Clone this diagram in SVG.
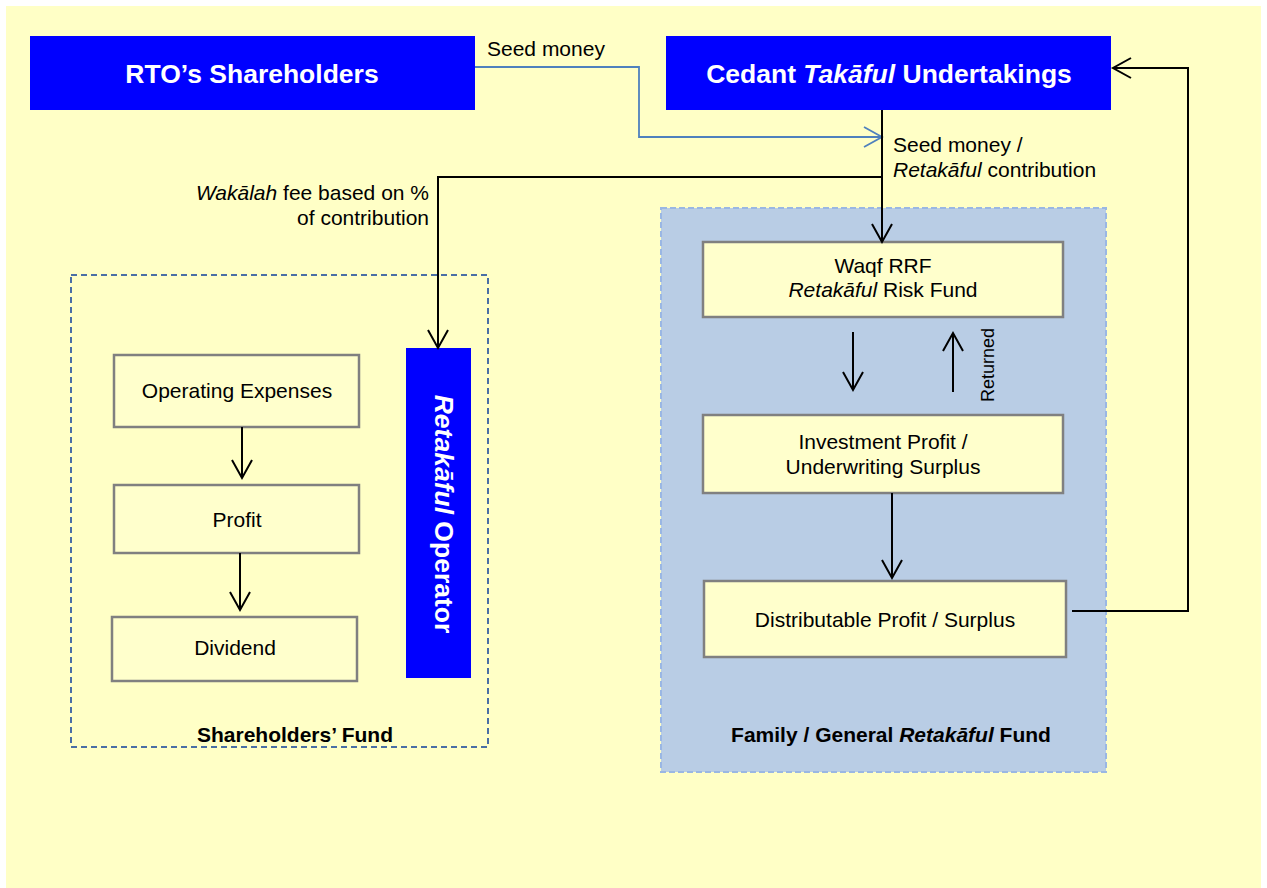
<svg xmlns="http://www.w3.org/2000/svg" width="1267" height="888" viewBox="0 0 1267 888">
<style>
text{font-family:"Liberation Sans",Arial,sans-serif;fill:#000}
.t{font-size:21px}
.b{font-weight:bold}
.h{font-size:26.5px;font-weight:bold;fill:#fff}
.i{font-style:italic}
.node{fill:#ffffcc;stroke:#808080;stroke-width:2.5}
.blue{fill:#0000ff}
.c{fill:none;stroke:#000;stroke-width:2}
</style>
<defs>
<marker id="ah" markerUnits="userSpaceOnUse" markerWidth="22" markerHeight="24" refX="19" refY="11" orient="auto" viewBox="0 0 22 24">
<path d="M1,1 L19,11 L1,21" fill="none" stroke="#000" stroke-width="2"/>
</marker>
<marker id="ahb" markerUnits="userSpaceOnUse" markerWidth="22" markerHeight="24" refX="19" refY="11" orient="auto" viewBox="0 0 22 24">
<path d="M1,1 L19,11 L1,21" fill="none" stroke="#4f81bd" stroke-width="1.8"/>
</marker>
</defs>
<rect x="6" y="6" width="1255" height="882" fill="#ffffc6"/>
<g id="family-fund">
<rect x="661" y="208" width="445" height="564" fill="#b9cde5" stroke="#9ab7e3" stroke-width="2" stroke-dasharray="6,3"/>
<text class="t b" x="891" y="742" text-anchor="middle">Family / General <tspan class="i">Retakāful</tspan> Fund</text>
</g>
<g id="shareholders-fund">
<rect x="71" y="275" width="417" height="472" fill="none" stroke="#4a6fa5" stroke-width="2" stroke-dasharray="6,4"/>
<text class="t b" x="295" y="742" text-anchor="middle">Shareholders’ Fund</text>
</g>
<g id="rto-shareholders">
<rect class="blue" x="30" y="36" width="445" height="74"/>
<text class="h" x="252" y="83" text-anchor="middle">RTO’s Shareholders</text>
</g>
<g id="cedant">
<rect class="blue" x="666" y="36" width="445" height="74"/>
<text class="h" x="889" y="83" text-anchor="middle">Cedant <tspan class="i">Takāful</tspan> Undertakings</text>
</g>
<g id="operator">
<rect class="blue" x="406" y="348" width="65" height="330"/>
<text class="h" transform="translate(444,514) rotate(90)" x="0" y="9" text-anchor="middle"><tspan class="i">Retakāful</tspan> Operator</text>
</g>
<g id="operating-expenses">
<rect class="node" x="114" y="355" width="245" height="72"/>
<text class="t" x="237" y="398" text-anchor="middle">Operating Expenses</text>
</g>
<g id="profit">
<rect class="node" x="114" y="485" width="245" height="68"/>
<text class="t" x="237" y="527" text-anchor="middle">Profit</text>
</g>
<g id="dividend">
<rect class="node" x="112" y="617" width="245" height="64"/>
<text class="t" x="235" y="655" text-anchor="middle">Dividend</text>
</g>
<g id="waqf-rrf">
<rect class="node" x="703" y="242" width="360" height="75"/>
<text class="t" x="883" y="273" text-anchor="middle">Waqf RRF</text>
<text class="t" x="883" y="297" text-anchor="middle"><tspan class="i">Retakāful</tspan> Risk Fund</text>
</g>
<g id="investment-profit">
<rect class="node" x="703" y="415" width="360" height="78"/>
<text class="t" x="883" y="449" text-anchor="middle">Investment Profit /</text>
<text class="t" x="883" y="474" text-anchor="middle">Underwriting Surplus</text>
</g>
<g id="distributable">
<rect class="node" x="704" y="581" width="362" height="76"/>
<text class="t" x="885" y="627" text-anchor="middle">Distributable Profit / Surplus</text>
</g>
<g id="connectors">
<path d="M475,67 H639 V137 H882" fill="none" stroke="#4f81bd" stroke-width="1.8" marker-end="url(#ahb)"/>
<text class="t" x="487" y="56">Seed money</text>
<path class="c" d="M882,110 V242" marker-end="url(#ah)"/>
<path class="c" d="M882,177 H438 V348" marker-end="url(#ah)"/>
<text class="t" x="893" y="152">Seed money /</text>
<text class="t" x="893" y="177"><tspan class="i">Retakāful</tspan> contribution</text>
<text class="t" x="429" y="200" text-anchor="end"><tspan class="i">Wakālah</tspan> fee based on %</text>
<text class="t" x="429" y="225" text-anchor="end">of contribution</text>
<path class="c" d="M242,427 V478" marker-end="url(#ah)"/>
<path class="c" d="M240,553 V610" marker-end="url(#ah)"/>
<path class="c" d="M853,332 V390" marker-end="url(#ah)"/>
<path class="c" d="M953,392 V333" marker-end="url(#ah)"/>
<text class="t" transform="translate(994,365) rotate(-90)" x="0" y="0" text-anchor="middle" style="font-size:18px">Returned</text>
<path class="c" d="M892,493 V578" marker-end="url(#ah)"/>
<path class="c" d="M1072,611 H1188 V68 H1113" marker-end="url(#ah)"/>
</g>
</svg>
